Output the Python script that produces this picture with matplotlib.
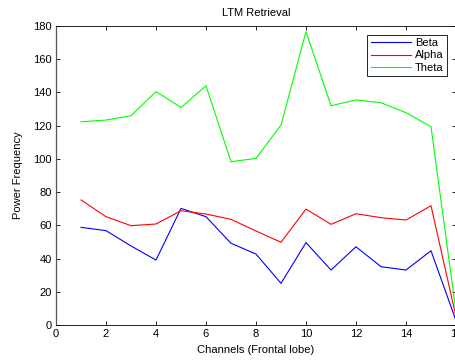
import numpy as np
import matplotlib
matplotlib.use("Agg")
import matplotlib.pyplot as plt

plt.rcParams['font.family'] = ['Liberation Sans', 'DejaVu Sans']

channels = list(range(1, 17))
beta = [58.8, 56.8, 47.6, 39.1, 70.2, 65.2, 49.2, 42.7, 25.1, 49.6, 33.1, 47.1, 35.1, 33.1, 44.7, 2.6]
alpha = [75.3, 65.2, 59.8, 60.8, 68.8, 66.8, 63.6, 56.6, 49.8, 69.8, 60.6, 67.0, 64.6, 63.2, 71.8, 5.0]
theta = [122.3, 123.4, 126.0, 140.5, 131.0, 144.0, 98.3, 100.3, 120.4, 176.6, 132.0, 135.5, 133.8, 127.8, 119.4, 8.0]

fig = plt.figure(figsize=(4.56, 3.6), dpi=100)
ax = fig.add_axes([56 / 456, 35 / 360, 400 / 456, 299 / 360])

ax.plot(channels, beta, color='#0000ff', lw=0.8, label='Beta')
ax.plot(channels, alpha, color='#ff0000', lw=0.8, label='Alpha')
ax.plot(channels, theta, color='#00ff00', lw=0.8, label='Theta')

ax.set_xlim(0, 16)
ax.set_ylim(0, 180)
ax.set_xticks(range(0, 17, 2))
ax.set_yticks(range(0, 181, 20))
ax.tick_params(direction='in', top=True, right=True, labelsize=8, length=3, width=0.6, pad=3)
for s in ax.spines.values():
    s.set_linewidth(0.6)
ax.spines['left'].set_color('#555555')
ax.spines['left'].set_linewidth(0.9)

ax.set_title('LTM Retrieval', fontsize=8, pad=7)
ax.set_xlabel('Channels (Frontal lobe)', fontsize=8, labelpad=4)
ax.set_ylabel('Power Frequency', fontsize=8, labelpad=7)

leg = ax.legend(loc='upper right', fontsize=8, fancybox=False, edgecolor='black',
                framealpha=1, borderaxespad=0.8, handlelength=3.6, borderpad=0.3,
                labelspacing=0.2, handletextpad=0.4)
leg.get_frame().set_linewidth(0.6)

fig.savefig('out.png', dpi=100)
